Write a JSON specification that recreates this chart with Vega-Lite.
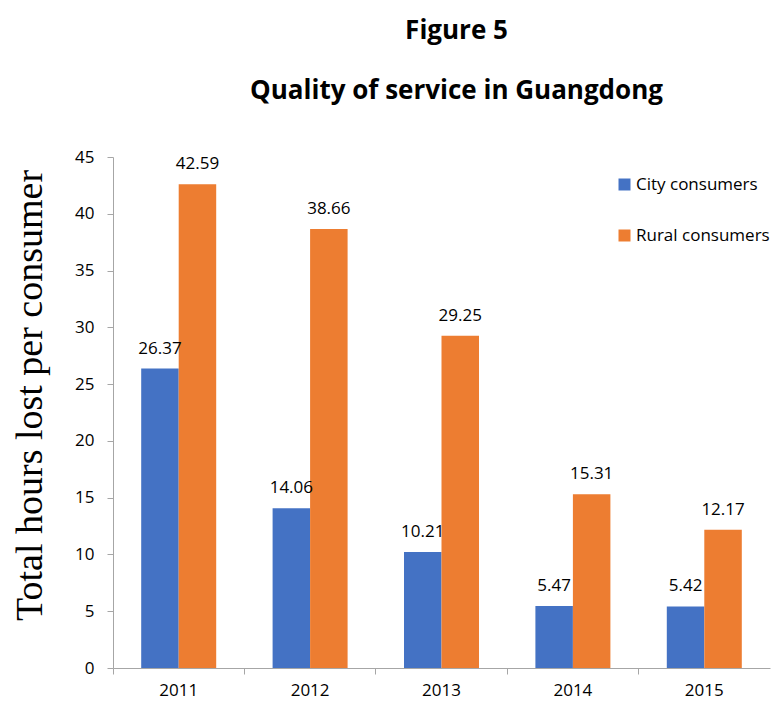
{
  "$schema": "https://vega.github.io/schema/vega-lite/v6.json",
  "autosize": "none",
  "padding": {"left": 113, "top": 157, "right": 10, "bottom": 34},
  "width": 657,
  "height": 511,
  "background": "white",
  "title": {
    "text": "Figure 5",
    "subtitle": "Quality of service in Guangdong",
    "anchor": "middle",
    "dx": 15,
    "font": "Open Sans",
    "fontSize": 26,
    "fontWeight": "bold",
    "color": "black",
    "subtitleFont": "Open Sans",
    "subtitleFontSize": 26,
    "subtitleFontWeight": "bold",
    "subtitleColor": "black",
    "subtitlePadding": 34,
    "offset": 44
  },
  "data": {
    "values": [
      {"year": "2011", "type": "City consumers", "value": 26.37},
      {"year": "2011", "type": "Rural consumers", "value": 42.59},
      {"year": "2012", "type": "City consumers", "value": 14.06},
      {"year": "2012", "type": "Rural consumers", "value": 38.66},
      {"year": "2013", "type": "City consumers", "value": 10.21},
      {"year": "2013", "type": "Rural consumers", "value": 29.25},
      {"year": "2014", "type": "City consumers", "value": 5.47},
      {"year": "2014", "type": "Rural consumers", "value": 15.31},
      {"year": "2015", "type": "City consumers", "value": 5.42},
      {"year": "2015", "type": "Rural consumers", "value": 12.17}
    ]
  },
  "encoding": {
    "x": {
      "field": "year",
      "type": "nominal",
      "scale": {"paddingInner": 0, "paddingOuter": 0},
      "axis": {
        "title": null,
        "bandPosition": 0,
        "labelAngle": 0,
        "labelFont": "Open Sans",
        "labelFontSize": 17,
        "labelColor": "black",
        "labelPadding": 8,
        "tickSize": 6,
        "tickColor": "#a6a6a6",
        "domainColor": "#a6a6a6",
        "grid": false
      }
    },
    "xOffset": {
      "field": "type",
      "type": "nominal",
      "scale": {"paddingInner": 0, "paddingOuter": 0.752}
    },
    "y": {
      "field": "value",
      "type": "quantitative",
      "scale": {"domain": [0, 45], "nice": false},
      "axis": {
        "title": "Total hours lost per consumer",
        "titleFont": "Liberation Serif",
        "titleFontSize": 38,
        "titleFontWeight": "normal",
        "titleColor": "black",
        "titleX": -72,
        "titleY": 238,
        "titleAngle": -90,
        "titleAlign": "center",
        "titleBaseline": "alphabetic",
        "values": [0, 5, 10, 15, 20, 25, 30, 35, 40, 45],
        "labelFont": "Open Sans",
        "labelFontSize": 17,
        "labelColor": "black",
        "labelPadding": 13,
        "tickSize": 6,
        "tickColor": "#a6a6a6",
        "domainColor": "#a6a6a6",
        "grid": false
      }
    }
  },
  "layer": [
    {
      "mark": {"type": "bar"},
      "encoding": {
        "color": {
          "field": "type",
          "type": "nominal",
          "scale": {"domain": ["City consumers", "Rural consumers"], "range": ["#4472C4", "#ED7D31"]},
          "legend": {
            "title": null,
            "orient": "none",
            "legendX": 503,
            "legendY": 19,
            "padding": 0,
            "symbolType": "square",
            "symbolSize": 144,
            "symbolStrokeWidth": 0,
            "labelFont": "Open Sans",
            "labelFontSize": 17,
            "labelColor": "black",
            "labelOffset": 3,
            "rowPadding": 33
          }
        }
      }
    },
    {
      "mark": {"type": "text", "baseline": "alphabetic", "dy": -15, "font": "Open Sans", "fontSize": 17, "color": "black"},
      "encoding": {
        "text": {"field": "value", "type": "quantitative", "format": ".2f"}
      }
    }
  ],
  "config": {"view": {"stroke": null}}
}
